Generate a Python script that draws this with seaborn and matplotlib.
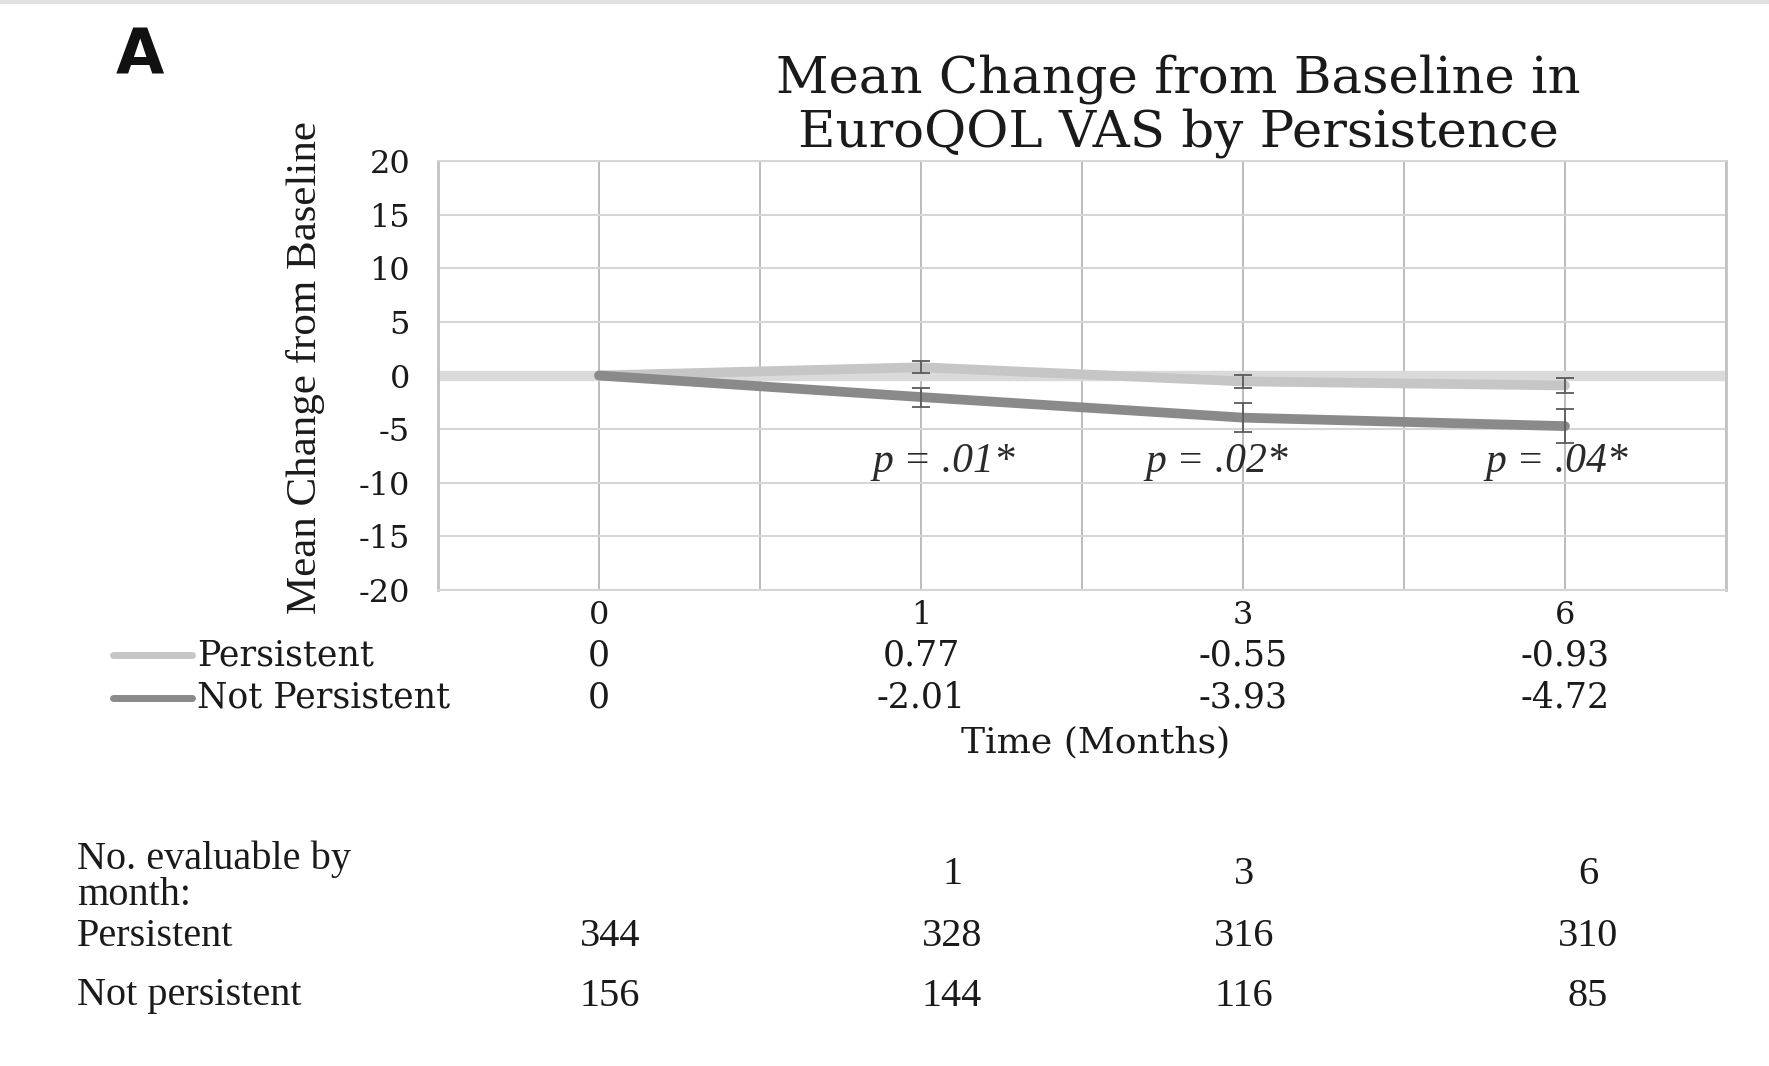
import numpy as np
import pandas as pd
import matplotlib
matplotlib.use("Agg")
import matplotlib.pyplot as plt
import matplotlib.transforms as mtransforms
from matplotlib.lines import Line2D
import seaborn as sns

# ---------------- data ----------------
months = ["0", "1", "3", "6"]
groups = ["Persistent", "Not Persistent"]
persistent = [0, 0.77, -0.55, -0.93]
not_persistent = [0, -2.01, -3.93, -4.72]
persistent_err = [0, 0.57, 0.62, 0.70]
not_persistent_err = [0, 0.89, 1.35, 1.59]
p_labels = ["= .01*", "= .02*", "= .04*"]
yticks = [-20, -15, -10, -5, 0, 5, 10, 15, 20]

n_header = ["1", "3", "6"]
n_persistent = ["344", "328", "316", "310"]
n_not_persistent = ["156", "144", "116", "85"]

# ---------------- style ----------------
sns.set_theme(style="white")
plt.rcParams["axes.unicode_minus"] = False
plt.rcParams["font.family"] = ["DejaVu Serif", "DejaVu Sans"]

W, H = 1769, 1066
fig = plt.figure(figsize=(W / 100, H / 100), dpi=100)
fig.patch.set_facecolor("white")

def fx(px):
    return px / W

def fy(py):
    return 1 - py / H

ax = fig.add_axes([fx(438), fy(590), fx(1726) - fx(438), fy(161) - fy(590)])

colors = {"Persistent": "#c6c6c6", "Not Persistent": "#8a8a8a"}
txt = "#1a1a1a"

df = pd.DataFrame({
    "Month": months * 2,
    "Change": persistent + not_persistent,
    "Group": [groups[0]] * len(months) + [groups[1]] * len(months),
})

# baseline (horizontal axis) band at zero
ax.axhline(0, color="#dadada", lw=7.5, zorder=2, solid_capstyle="butt")

sns.lineplot(data=df, x="Month", y="Change", hue="Group", palette=colors,
             linewidth=7, ax=ax, legend=False, sort=False, zorder=3,
             solid_capstyle="round")

# error bars
xpos = np.arange(len(months))
for vals, errs in [(persistent, persistent_err), (not_persistent, not_persistent_err)]:
    v = np.array(vals)
    e = np.array(errs)
    m = e > 0
    ax.errorbar(xpos[m], v[m], yerr=e[m], fmt="none", ecolor="#5a5a5a",
                elinewidth=1.3, capsize=6.5, capthick=1.3, zorder=4)

# axes limits / grid
ax.set_xlim(-0.5, len(months) - 0.5)
ax.set_ylim(-20, 20)
ax.set_yticks(yticks)
ax.set_yticklabels([str(t) for t in yticks])
ax.set_xticks(xpos)
ax.set_xticklabels(months)
ax.set_xticks(np.arange(-0.5, len(months), 1.0), minor=True)
ax.grid(axis="y", color="#d6d6d6", lw=1.5, zorder=0)
ax.grid(axis="x", which="both", color="#a9a9a9", lw=1.1, zorder=0)
ax.set_axisbelow(True)
for s in ["left", "right"]:
    ax.spines[s].set_color("#c2c2c2")
    ax.spines[s].set_linewidth(2)
for s in ["top", "bottom"]:
    ax.spines[s].set_color("#d6d6d6")
    ax.spines[s].set_linewidth(1.5)
ax.tick_params(axis="y", length=0, pad=20, labelsize=23, colors=txt)
ax.tick_params(axis="x", which="both", length=0, pad=7, labelsize=23, colors=txt)
ax.set_xlabel("")
ax.set_ylabel("")

# p-value annotations
p_x = [1.07, 1.92, 2.975]
for x, lab in zip(p_x, p_labels):
    ax.text(x, -8.0, "p " + lab, ha="center", va="center", fontsize=30,
            style="italic", family="Liberation Serif", color="#2a2a2a", zorder=5)

# ---------------- titles ----------------
fig.text(fx(116), fy(73), "A", fontsize=45, fontweight="bold",
         family="DejaVu Sans", ha="left", va="baseline", color="#111111")
fig.text(fx(1178), fy(93), "Mean Change from Baseline in", fontsize=37,
         ha="center", va="baseline", color=txt)
fig.text(fx(1178), fy(147), "EuroQOL VAS by Persistence", fontsize=37,
         ha="center", va="baseline", color=txt)
fig.text(fx(305), fy(368), "Mean Change from Baseline", rotation=90,
         fontsize=31, family="Liberation Serif", ha="center", va="center",
         color=txt)

# ---------------- data table under axis ----------------
blend = mtransforms.blended_transform_factory(ax.transData, fig.transFigure)
row_y = {"Persistent": fy(655), "Not Persistent": fy(698)}
series = {"Persistent": persistent, "Not Persistent": not_persistent}
for g in groups:
    y = row_y[g]
    fig.add_artist(Line2D([fx(113), fx(192)], [y, y], transform=fig.transFigure,
                          color=colors[g], lw=5, solid_capstyle="round"))
    fig.text(fx(197), y, g, fontsize=25, ha="left", va="center", color=txt)
    for i, v in enumerate(series[g]):
        ax.text(i, y, f"{v:g}", transform=blend, fontsize=25, ha="center",
                va="center", color=txt)
fig.text(fx(1096), fy(742), "Time (Months)", fontsize=26, ha="center",
         va="center", color=txt)

# ---------------- numbers evaluable table ----------------
tf = dict(family="Liberation Serif", fontsize=29, color=txt)
col_x = [fx(610), fx(952), fx(1244), fx(1588)]
fig.text(fx(77), fy(877), "No. evaluable by\nmonth:", ha="left", va="center",
         linespacing=0.95, **tf)
for cx, lab in zip(col_x[1:], n_header):
    fig.text(cx, fy(875), lab, ha="center", va="center", **tf)
fig.text(fx(77), fy(937), "Persistent", ha="left", va="center", **tf)
fig.text(fx(77), fy(996), "Not persistent", ha="left", va="center", **tf)
for cx, a, b in zip(col_x, n_persistent, n_not_persistent):
    fig.text(cx, fy(937), a, ha="center", va="center", **tf)
    fig.text(cx, fy(996), b, ha="center", va="center", **tf)

# top border line
fig.add_artist(Line2D([0, 1], [fy(2), fy(2)], transform=fig.transFigure,
                      color="#e2e2e2", lw=3))

fig.savefig("out.png", dpi=100, facecolor="white")
